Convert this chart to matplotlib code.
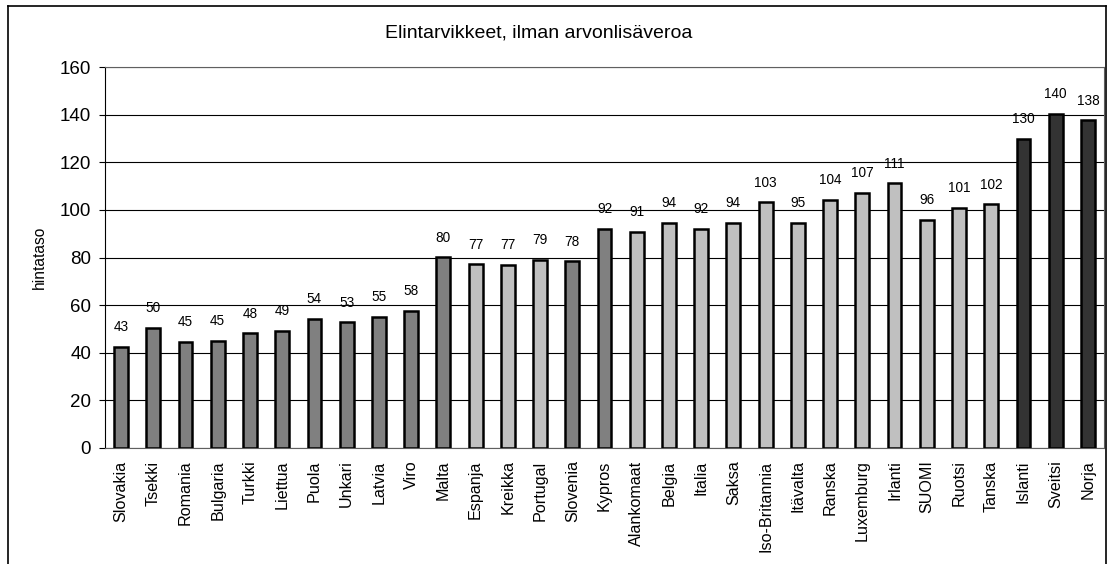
import numpy as np
import matplotlib
matplotlib.use("Agg")
import matplotlib.pyplot as plt
from matplotlib.lines import Line2D

plt.rcParams['font.family'] = ['Liberation Sans', 'DejaVu Sans']

maat = ["Slovakia", "Tsekki", "Romania", "Bulgaria", "Turkki", "Liettua", "Puola",
        "Unkari", "Latvia", "Viro", "Malta", "Espanja", "Kreikka", "Portugal",
        "Slovenia", "Kypros", "Alankomaat", "Belgia", "Italia", "Saksa",
        "Iso-Britannia", "Itävalta", "Ranska", "Luxemburg", "Irlanti", "SUOMI",
        "Ruotsi", "Tanska", "Islanti", "Sveitsi", "Norja"]
hintataso = [42.6, 50.4, 44.6, 45.0, 48.1, 49.2, 54.3, 52.8, 55.1, 57.6, 80.1,
             77.1, 76.9, 79.1, 78.4, 92.0, 90.7, 94.5, 92.0, 94.5, 103.2, 94.6,
             104.3, 107.1, 111.2, 95.8, 100.9, 102.4, 129.9, 140.4, 137.6]
labels = ["43", "50", "45", "45", "48", "49", "54", "53", "55", "58", "80",
          "77", "77", "79", "78", "92", "91", "94", "92", "94", "103", "95",
          "104", "107", "111", "96", "101", "102", "130", "140", "138"]
# ryhmä: 0 = uudet jäsenmaat, 1 = vanhat EU-maat, 2 = EU:n ulkopuoliset
ryhma = [0, 0, 0, 0, 0, 0, 0, 0, 0, 0, 0, 1, 1, 1, 0, 0, 1, 1, 1, 1, 1, 1,
         1, 1, 1, 1, 1, 1, 2, 2, 2]
varit = {0: "#808080", 1: "#c0c0c0", 2: "#333333"}

fig = plt.figure(figsize=(11.07, 5.64), dpi=100)
ax = fig.add_axes([105 / 1107, 1 - 448 / 564, (1104 - 105) / 1107, (448 - 67) / 564])

x = np.arange(len(maat))
ax.bar(x, hintataso, width=0.43, color=[varit[r] for r in ryhma],
       edgecolor="black", linewidth=1.8, zorder=3)
for xi, h, lab in zip(x, hintataso, labels):
    ax.text(xi, h + 5.3, lab, ha="center", va="bottom", fontsize=9.8)

ax.set_ylim(0, 160)
ax.set_xlim(-0.5, len(maat) - 0.5)
ax.set_yticks(range(0, 161, 20))
ax.yaxis.grid(True, color="black", linewidth=0.8, zorder=0)
ax.set_axisbelow(True)
ax.tick_params(axis="y", labelsize=13.5, length=4, width=0.8, pad=6)
ax.tick_params(axis="x", length=0, pad=9, labelsize=11.6)
ax.set_xticks(x)
ax.set_xticklabels(maat, rotation=90)
ax.set_ylabel("hintataso", fontsize=11.2, labelpad=9)
for s in ["top", "right", "bottom"]:
    ax.spines[s].set_color("#606060")
ax.spines["left"].set_color("black")

fig.text(539 / 1107, 1 - 33 / 564, "Elintarvikkeet, ilman arvonlisäveroa",
         ha="center", va="center", fontsize=14)

# ulkokehys
fig.add_artist(Line2D([8 / 1107, 8 / 1107], [0, 1 - 6 / 564], color="black", lw=1.2))
fig.add_artist(Line2D([8 / 1107, 1106 / 1107], [1 - 6 / 564, 1 - 6 / 564], color="black", lw=1.2))
fig.add_artist(Line2D([1106 / 1107, 1106 / 1107], [0, 1 - 6 / 564], color="black", lw=1.2))

fig.savefig("out.png", dpi=100)
